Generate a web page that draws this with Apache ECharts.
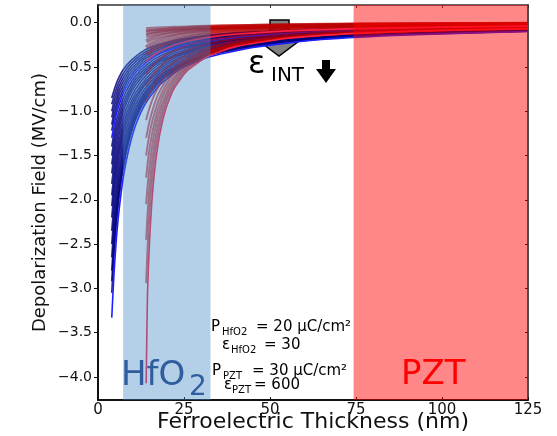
<!DOCTYPE html>
<html>
<head>
<meta charset="utf-8">
<script src="https://cdn.jsdelivr.net/npm/echarts@6/dist/echarts.min.js"></script>
<style>
  html, body { margin: 0; padding: 0; background: #fff; }
  #main { width: 557px; height: 436px; }
</style>
</head>
<body>
<div id="main"></div>
<script>
// thickness grid (nm) for the HfO2 family and its curves (MV/cm)
const thicknessHfO2 = [4, 4.6, 5.3, 6.2, 7.5, 9, 11, 14, 18, 24, 32, 45, 65, 90, 125];
const fieldHfO2 = [
  [-0.85, -0.77, -0.69, -0.61, -0.52, -0.45, -0.38, -0.30, -0.24, -0.185, -0.14, -0.10, -0.071, -0.052, -0.037],
  [-0.92, -0.835, -0.75, -0.66, -0.565, -0.485, -0.41, -0.325, -0.26, -0.198, -0.15, -0.11, -0.077, -0.056, -0.040],
  [-1.0, -0.90, -0.81, -0.71, -0.61, -0.52, -0.44, -0.35, -0.28, -0.21, -0.16, -0.12, -0.082, -0.060, -0.043],
  [-1.07, -0.965, -0.87, -0.76, -0.655, -0.555, -0.47, -0.375, -0.30, -0.225, -0.17, -0.125, -0.088, -0.064, -0.046],
  [-1.15, -1.03, -0.93, -0.81, -0.70, -0.59, -0.50, -0.40, -0.32, -0.24, -0.18, -0.13, -0.093, -0.067, -0.049],
  [-1.22, -1.10, -0.985, -0.865, -0.74, -0.63, -0.53, -0.425, -0.335, -0.255, -0.193, -0.14, -0.097, -0.071, -0.052],
  [-1.3, -1.17, -1.04, -0.92, -0.78, -0.67, -0.56, -0.45, -0.35, -0.27, -0.205, -0.15, -0.10, -0.075, -0.054],
  [-1.4, -1.255, -1.115, -0.985, -0.835, -0.715, -0.595, -0.48, -0.375, -0.285, -0.218, -0.158, -0.108, -0.080, -0.057],
  [-1.5, -1.34, -1.19, -1.05, -0.89, -0.76, -0.63, -0.51, -0.40, -0.30, -0.23, -0.165, -0.115, -0.084, -0.060],
  [-1.6, -1.43, -1.27, -1.115, -0.94, -0.80, -0.665, -0.535, -0.42, -0.32, -0.24, -0.173, -0.121, -0.088, -0.064],
  [-1.7, -1.52, -1.35, -1.18, -0.99, -0.84, -0.70, -0.56, -0.44, -0.34, -0.25, -0.18, -0.127, -0.092, -0.067],
  [-1.82, -1.625, -1.44, -1.255, -1.055, -0.895, -0.745, -0.595, -0.465, -0.355, -0.265, -0.19, -0.134, -0.097, -0.070],
  [-1.95, -1.73, -1.53, -1.33, -1.12, -0.95, -0.79, -0.63, -0.49, -0.37, -0.28, -0.20, -0.141, -0.102, -0.073],
  [-2.07, -1.835, -1.62, -1.405, -1.18, -1.0, -0.83, -0.66, -0.515, -0.39, -0.295, -0.21, -0.147, -0.106, -0.077],
  [-2.2, -1.94, -1.71, -1.48, -1.24, -1.05, -0.87, -0.69, -0.54, -0.41, -0.31, -0.22, -0.153, -0.111, -0.080],
  [-2.35, -2.07, -1.815, -1.57, -1.31, -1.105, -0.915, -0.725, -0.565, -0.43, -0.325, -0.23, -0.16, -0.116, -0.083],
  [-2.5, -2.20, -1.92, -1.66, -1.38, -1.16, -0.96, -0.76, -0.59, -0.45, -0.34, -0.24, -0.166, -0.120, -0.086],
  [-2.65, -2.32, -2.025, -1.74, -1.445, -1.21, -0.995, -0.785, -0.61, -0.465, -0.35, -0.248, -0.171, -0.124, -0.089],
  [-2.8, -2.44, -2.13, -1.82, -1.51, -1.26, -1.03, -0.81, -0.63, -0.48, -0.36, -0.255, -0.176, -0.127, -0.092],
  [-2.92, -2.545, -2.21, -1.885, -1.56, -1.30, -1.06, -0.835, -0.65, -0.49, -0.365, -0.263, -0.18, -0.13, -0.094],
  [-3.05, -2.65, -2.29, -1.95, -1.61, -1.34, -1.09, -0.86, -0.67, -0.50, -0.37, -0.27, -0.184, -0.133, -0.096],
  [-3.33, -2.87, -2.46, -2.09, -1.71, -1.42, -1.15, -0.90, -0.70, -0.52, -0.39, -0.28, -0.19, -0.137, -0.099]
];
// curves drawn in bright blue
const brightHfO2 = [6, 21];

// thickness grid (nm) for the PZT family and its curves (MV/cm)
const thicknessPZT = [14, 14.4, 15, 16, 17.5, 19.5, 22, 26, 32, 40, 55, 75, 100, 125];
const fieldPZT = [
  [-4.07, -3.04, -2.45, -1.85, -1.36, -1.0, -0.75, -0.54, -0.38, -0.27, -0.176, -0.12, -0.086, -0.067],
  [-2.94, -2.55, -2.12, -1.66, -1.25, -0.94, -0.72, -0.52, -0.37, -0.267, -0.175, -0.12, -0.086, -0.067],
  [-2.45, -2.17, -1.85, -1.49, -1.15, -0.88, -0.685, -0.50, -0.36, -0.26, -0.172, -0.119, -0.085, -0.067],
  [-2.05, -1.85, -1.62, -1.33, -1.05, -0.825, -0.65, -0.48, -0.35, -0.256, -0.17, -0.117, -0.085, -0.066],
  [-1.75, -1.60, -1.42, -1.20, -0.97, -0.77, -0.62, -0.465, -0.34, -0.25, -0.168, -0.116, -0.084, -0.066],
  [-1.5, -1.39, -1.25, -1.08, -0.89, -0.72, -0.58, -0.445, -0.33, -0.244, -0.165, -0.115, -0.083, -0.065],
  [-1.3, -1.22, -1.11, -0.97, -0.81, -0.67, -0.55, -0.426, -0.32, -0.24, -0.162, -0.114, -0.083, -0.065],
  [-1.1, -1.04, -0.96, -0.85, -0.73, -0.61, -0.51, -0.40, -0.305, -0.23, -0.158, -0.112, -0.082, -0.064],
  [-0.9, -0.86, -0.80, -0.72, -0.63, -0.53, -0.45, -0.36, -0.28, -0.21, -0.147, -0.104, -0.077, -0.061],
  [-0.72, -0.69, -0.65, -0.59, -0.52, -0.45, -0.38, -0.31, -0.24, -0.185, -0.13, -0.093, -0.068, -0.054],
  [-0.58, -0.56, -0.525, -0.48, -0.42, -0.37, -0.315, -0.256, -0.20, -0.155, -0.109, -0.078, -0.058, -0.046],
  [-0.44, -0.425, -0.40, -0.37, -0.333, -0.293, -0.254, -0.21, -0.166, -0.13, -0.092, -0.067, -0.05, -0.039],
  [-0.36, -0.347, -0.33, -0.30, -0.27, -0.237, -0.205, -0.17, -0.133, -0.104, -0.074, -0.053, -0.039, -0.031],
  [-0.28, -0.27, -0.255, -0.235, -0.21, -0.183, -0.158, -0.13, -0.102, -0.08, -0.056, -0.041, -0.03, -0.024],
  [-0.21, -0.203, -0.192, -0.178, -0.159, -0.14, -0.121, -0.10, -0.079, -0.062, -0.044, -0.032, -0.024, -0.019],
  [-0.15, -0.146, -0.14, -0.13, -0.119, -0.106, -0.094, -0.079, -0.064, -0.051, -0.037, -0.027, -0.02, -0.016],
  [-0.11, -0.107, -0.103, -0.098, -0.09, -0.082, -0.074, -0.063, -0.052, -0.042, -0.031, -0.023, -0.018, -0.014],
  [-0.075, -0.074, -0.073, -0.071, -0.068, -0.065, -0.061, -0.056, -0.049, -0.043, -0.034, -0.027, -0.021, -0.017]
];
const brightPZT = [0, 11];

// material regions along the thickness axis
const bandRanges = [[7.3, 32.7], [74.3, 125]];
const bandColors = ['rgba(68,138,197,0.4)', 'rgba(255,0,0,0.47)'];
const yTicks = [0, -0.5, -1, -1.5, -2, -2.5, -3, -3.5, -4];
const yMin = -4.26, yMax = 0.2;

const FONT = 'DejaVu Sans';
let chart = echarts.init(document.getElementById('main'));

let series = [];
fieldHfO2.forEach((vals, k) => {
  let bright = brightHfO2.includes(k);
  series.push({
    type: 'line',
    data: thicknessHfO2.map((t, i) => [t, vals[i]]),
    showSymbol: false,
    smooth: 0.2,
    silent: true,
    z: bright ? 3 : 2,
    lineStyle: bright
      ? { color: '#1e1eff', width: 1.6 }
      : { color: 'rgba(0,0,125,0.82)', width: 1.7 }
  });
});
fieldPZT.forEach((vals, k) => {
  let bright = brightPZT.includes(k);
  series.push({
    type: 'line',
    data: thicknessPZT.map((t, i) => [t, vals[i]]),
    showSymbol: false,
    smooth: 0.2,
    silent: true,
    z: bright ? 4 : 3,
    lineStyle: bright
      ? { color: '#ff2040', width: 1.6 }
      : { color: 'rgba(185,0,0,0.6)', width: k > 10 ? 4.5 : 2 }
  });
});
// the two material bands are laid over the curves
series.push({
  type: 'custom',
  silent: true,
  z: 6,
  data: bandRanges,
  renderItem: (params, api) => {
    const p0 = api.coord([api.value(0), yMax]);
    const p1 = api.coord([api.value(1), yMin]);
    return {
      type: 'rect',
      shape: { x: p0[0], y: p0[1], width: p1[0] - p0[0], height: p1[1] - p0[1] },
      style: { fill: bandColors[params.dataIndex] }
    };
  }
});

function txt(text, x, y, size, color) {
  return {
    type: 'text', x: x, y: y, z: 10, silent: true,
    style: {
      text: text, fill: color || '#000',
      font: size + 'px "' + FONT + '"',
      align: 'left', verticalAlign: 'middle',
      textAlign: 'left', textVerticalAlign: 'middle'
    }
  };
}

let option = {
  animation: false,
  backgroundColor: '#fff',
  grid: { left: 98, right: 29, top: 5, bottom: 36, outerBoundsMode: 'none' },
  xAxis: [{
    type: 'value', min: 0, max: 125, interval: 25,
    name: 'Ferroelectric Thickness (nm)',
    nameLocation: 'middle', nameGap: 11, nameMoveOverlap: false,
    nameTextStyle: { fontFamily: FONT, fontSize: 22, color: '#111', verticalAlign: 'top' },
    axisLine: { onZero: false, lineStyle: { color: '#111', width: 2 } },
    axisTick: { inside: true, length: 3, lineStyle: { color: '#111' } },
    axisLabel: { fontFamily: FONT, fontSize: 15, color: '#111', margin: 3 },
    splitLine: { show: false }
  }, {
    type: 'value', min: 0, max: 125, interval: 25, position: 'top',
    axisLine: { onZero: false, lineStyle: { color: '#333', width: 1.5 } },
    axisTick: { inside: true, length: 3, lineStyle: { color: '#333' } },
    axisLabel: { show: false },
    splitLine: { show: false }
  }],
  yAxis: [{
    type: 'value', min: yMin, max: yMax,
    name: 'Depolarization Field (MV/cm)',
    nameLocation: 'middle', nameGap: 49, nameMoveOverlap: false,
    nameTextStyle: { fontFamily: FONT, fontSize: 18, color: '#111' },
    axisLine: { onZero: false, lineStyle: { color: '#111', width: 2 } },
    axisTick: { customValues: yTicks, length: 4, lineStyle: { color: '#111' } },
    axisLabel: {
      customValues: yTicks, fontFamily: FONT, fontSize: 14, color: '#111', margin: 6,
      formatter: v => v === 0 ? '0.0' : '\u2212' + Math.abs(v).toFixed(1)
    },
    splitLine: { show: false }
  }, {
    type: 'value', min: yMin, max: yMax, position: 'right',
    axisLine: { show: true, onZero: false, lineStyle: { color: '#111', width: 1.5 } },
    axisTick: { inside: true, customValues: yTicks, length: 3, lineStyle: { color: '#111' } },
    axisLabel: { show: false },
    splitLine: { show: false }
  }],
  series: series,
  graphic: {
    elements: [
      // block arrow under the curves
      {
        type: 'polygon', z: 1, silent: true,
        shape: { points: [[270, 20], [289, 20], [289, 41], [299, 41], [279, 56], [259, 41], [270, 41]] },
        style: { fill: '#808080', stroke: '#000', lineWidth: 1.5 }
      },
      txt('\u03b5', 248, 65, 32),
      txt('INT', 271, 76, 20),
      {
        type: 'polygon', z: 10, silent: true,
        shape: { points: [[322, 60], [330, 60], [330, 69], [336, 69], [326, 83], [316, 69], [322, 69]] },
        style: { fill: '#000' }
      },
      txt('HfO', 121, 376, 34, '#2f5d9e'),
      txt('2', 189, 388, 28, '#2f5d9e'),
      txt('PZT', 401, 375, 34, '#ff0000'),
      txt('P', 211, 327, 15),
      txt('HfO2', 222, 332, 10),
      txt('= 20 \u00b5C/cm\u00b2', 256, 327, 15),
      txt('\u03b5', 222, 345, 15),
      txt('HfO2', 231, 350, 10),
      txt('= 30', 264, 345, 15),
      txt('P', 212, 371, 15),
      txt('PZT', 223, 376, 10),
      txt('= 30 \u00b5C/cm\u00b2', 252, 371, 15),
      txt('\u03b5', 224, 385, 15),
      txt('PZT', 232, 390, 10),
      txt('= 600', 254, 385, 15)
    ]
  }
};

chart.setOption(option);
</script>
</body>
</html>
